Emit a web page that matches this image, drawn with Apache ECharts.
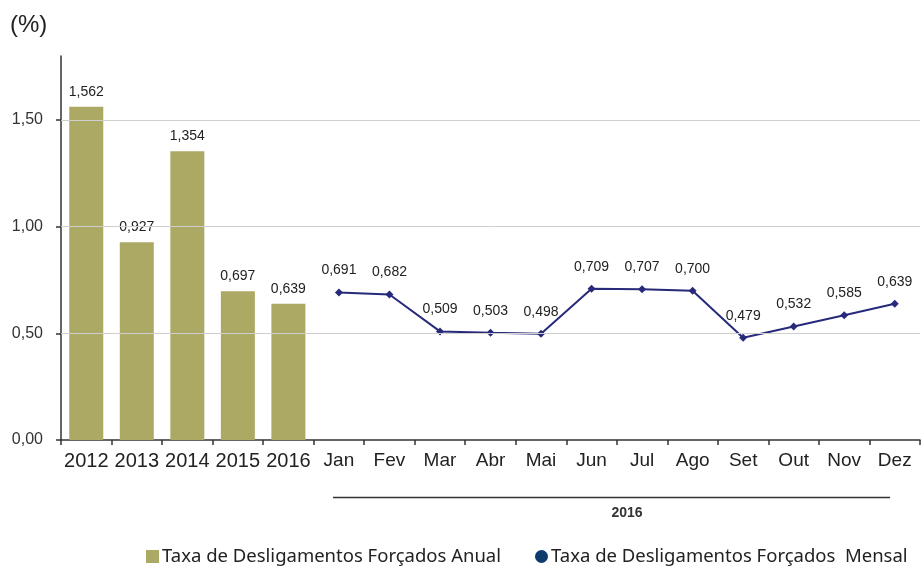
<!DOCTYPE html>
<html><head><meta charset="utf-8">
<script src="https://cdn.jsdelivr.net/npm/echarts@6/dist/echarts.min.js"></script>
<style>html,body{margin:0;padding:0;background:#fff}#c{width:923px;height:569px}</style>
</head><body><div id="c"></div>
<script>
var categories = ['2012','2013','2014','2015','2016','Jan','Fev','Mar','Abr','Mai','Jun','Jul','Ago','Set','Out','Nov','Dez'];
var annualValues = [1.562, 0.927, 1.354, 0.697, 0.639, '-', '-', '-', '-', '-', '-', '-', '-', '-', '-', '-', '-'];
var monthlyValues = ['-', '-', '-', '-', '-', 0.691, 0.682, 0.509, 0.503, 0.498, 0.709, 0.707, 0.700, 0.479, 0.532, 0.585, 0.639];
var gridValues = [0.5, 1.0, 1.5];
var groupLabel = '2016';

function fmt(v, d){ return v.toFixed(d).replace('.', ','); }

var chart = echarts.init(document.getElementById('c'));
chart.setOption({
  animation: false,
  textStyle: {fontFamily: '"Liberation Sans", Arial, sans-serif'},
  grid: {left: 61, right: 3, top: 56, bottom: 129, containLabel: false},
  legend: {
    bottom: 3, left: 146, width: 900, padding: 0, itemGap: 34, itemWidth: 13, itemHeight: 13,
    textStyle: {fontFamily: '"Noto Sans", "Open Sans", sans-serif', fontSize: 18.5, color: '#222', padding: [0, 0, 0, -2]},
    data: [
      {name: 'Taxa de Desligamentos Forçados Anual', icon: 'rect'},
      {name: 'Taxa de Desligamentos Forçados  Mensal', icon: 'circle', itemStyle: {color: '#0d3b6e'}}
    ]
  },
  graphic: [
    {type: 'text', left: 10, top: 13, style: {text: '(%)', font: '24px "Liberation Sans", Arial, sans-serif', fill: '#222'}},
    {type: 'line', shape: {x1: 333, y1: 497.5, x2: 890, y2: 497.5}, style: {stroke: '#333', lineWidth: 1.3}},
    {type: 'text', x: 627, y: 513, style: {text: groupLabel, font: 'bold 14px "Liberation Sans", Arial, sans-serif', fill: '#333', align: 'center', verticalAlign: 'middle'}}
  ],
  xAxis: {
    type: 'category', data: categories, boundaryGap: true,
    axisLine: {lineStyle: {color: '#333', width: 1.5}},
    axisTick: {show: true, length: 5, lineStyle: {color: '#333', width: 1.5}},
    axisLabel: {
      margin: 11, interval: 0,
      formatter: function(v, i){ return i < 5 ? '{y|' + v + '}' : '{m|' + v + '}'; },
      rich: {
        y: {fontFamily: '"Liberation Sans", Arial, sans-serif', fontSize: 20, color: '#222'},
        m: {fontFamily: '"Liberation Sans Narrow", "Arial Narrow", "Liberation Sans", sans-serif', fontSize: 19, color: '#222'}
      }
    }
  },
  yAxis: {
    type: 'value', min: 0, max: 1.8, interval: 0.5,
    axisLine: {show: true, lineStyle: {color: '#333', width: 1.5}},
    axisTick: {show: true, length: 5, lineStyle: {color: '#333', width: 1.5}},
    splitLine: {show: false},
    axisLabel: {
      margin: 18, fontSize: 16, color: '#333', showMaxLabel: false,
      formatter: function(v){ return Math.abs(v*2 - Math.round(v*2)) < 1e-6 ? fmt(v, 2) : ''; }
    }
  },
  series: [
    {
      name: 'Taxa de Desligamentos Forçados Anual', type: 'bar', data: annualValues,
      barWidth: 34,
      itemStyle: {color: '#aba963'},
      label: {show: true, position: 'top', distance: 8, fontSize: 14, color: '#222',
        formatter: function(p){ return fmt(p.value, 3); }},
      markLine: {
        silent: true, symbol: ['none', 'none'], label: {show: false},
        lineStyle: {color: '#cfcfcf', type: 'solid', width: 1},
        data: gridValues.map(function(v){ return {yAxis: v}; })
      },
      z: 3
    },
    {
      name: 'Taxa de Desligamentos Forçados  Mensal', type: 'line', data: monthlyValues,
      symbol: 'diamond', symbolSize: 8,
      lineStyle: {color: '#27297a', width: 2},
      itemStyle: {color: '#27297a'},
      label: {show: true, position: 'top', distance: 11, fontSize: 14, color: '#222',
        formatter: function(p){ return fmt(p.value, 3); }},
      z: 4
    }
  ]
});
</script></body></html>
